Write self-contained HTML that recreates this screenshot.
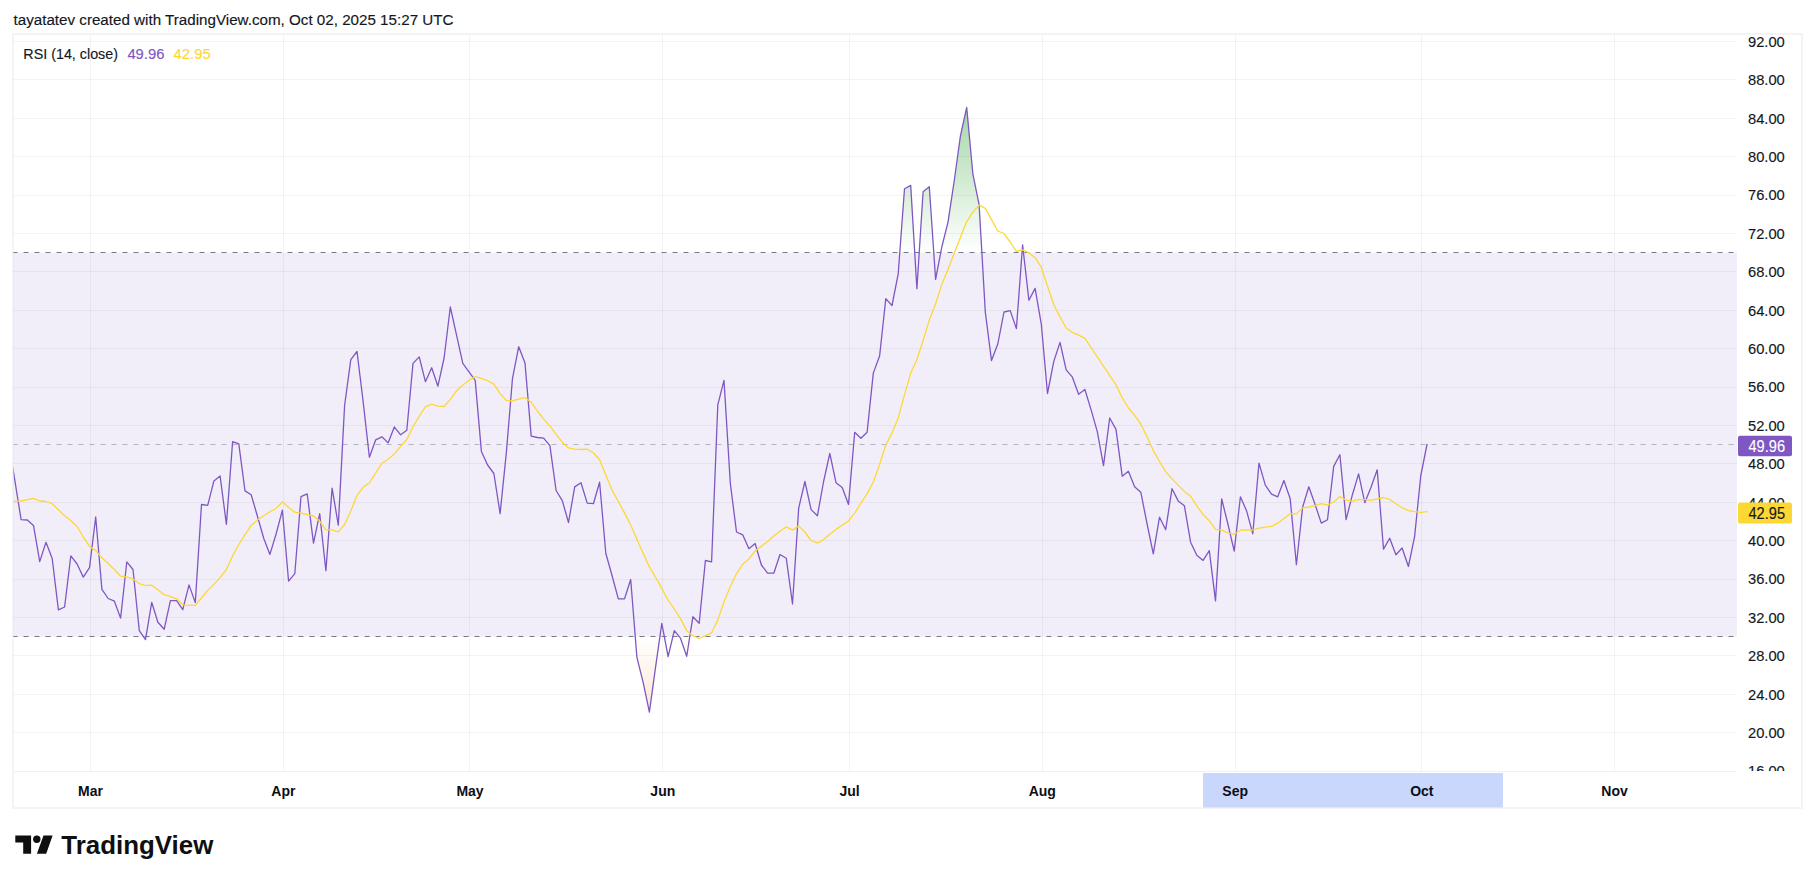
<!DOCTYPE html><html><head><meta charset="utf-8"><title>RSI chart</title>
<style>html,body{margin:0;padding:0;background:#fff}body{width:1815px;height:883px;overflow:hidden}svg{display:block}text{font-family:"Liberation Sans",sans-serif;font-size:15.3px;fill:#131722;stroke:#131722;stroke-width:0.15px;paint-order:stroke}.b{font-weight:bold;font-size:14px;fill:#0c0e15;stroke:none}</style></head><body>
<svg width="1815" height="883" viewBox="0 0 1815 883">
<defs>
<linearGradient id="gg" gradientUnits="userSpaceOnUse" x1="0" y1="-35.3" x2="0" y2="252.7"><stop offset="0" stop-color="#4caf50" stop-opacity="1"/><stop offset="1" stop-color="#4caf50" stop-opacity="0"/></linearGradient>
<linearGradient id="rg" gradientUnits="userSpaceOnUse" x1="0" y1="636.7" x2="0" y2="924.7"><stop offset="0" stop-color="#f0aa5a" stop-opacity="0"/><stop offset="1" stop-color="#f0aa5a" stop-opacity="1"/></linearGradient>
<clipPath id="cp"><rect x="13.5" y="35.0" width="1723.5" height="736.0"/></clipPath>
<clipPath id="cu"><rect x="13.5" y="35.0" width="1723.5" height="217.7"/></clipPath>
<clipPath id="cl"><rect x="13.5" y="636.7" width="1723.5" height="134.3"/></clipPath>
<clipPath id="ca"><rect x="1737.0" y="35.0" width="65.0" height="736.0"/></clipPath>
</defs>
<rect width="1815" height="883" fill="#fff"/>
<text x="13.5" y="24.8" textLength="440" lengthAdjust="spacingAndGlyphs">tayatatev created with TradingView.com, Oct 02, 2025 15:27 UTC</text>
<rect x="13" y="34" width="1789" height="774" fill="none" stroke="#f4f4f4" stroke-width="2"/>
<path d="M13.5 732.5H1737.0M13.5 694.5H1737.0M13.5 655.5H1737.0M13.5 617.5H1737.0M13.5 579.5H1737.0M13.5 540.5H1737.0M13.5 502.5H1737.0M13.5 463.5H1737.0M13.5 425.5H1737.0M13.5 387.5H1737.0M13.5 348.5H1737.0M13.5 310.5H1737.0M13.5 271.5H1737.0M13.5 233.5H1737.0M13.5 195.5H1737.0M13.5 156.5H1737.0M13.5 118.5H1737.0M13.5 79.5H1737.0M13.5 41.5H1737.0M90.5 35.0V771.0M283.5 35.0V771.0M469.5 35.0V771.0M662.5 35.0V771.0M849.5 35.0V771.0M1042.5 35.0V771.0M1235.5 35.0V771.0M1421.5 35.0V771.0M1614.5 35.0V771.0" stroke="#2a2e39" stroke-opacity="0.058" stroke-width="1" fill="none"/>
<path d="M13.5 771.5H1737.0" stroke="#f0f0f1" stroke-width="1"/>
<rect x="13.5" y="252.7" width="1723.5" height="384.0" fill="#7e57c2" fill-opacity="0.1"/>
<g clip-path="url(#cu)"><path d="M12.8 467.5 L21.1 519.7 L27.3 520.0 L33.5 525.4 L39.7 561.6 L46.0 542.3 L52.2 558.6 L58.4 609.9 L64.6 607.0 L70.8 555.9 L77.1 564.0 L83.3 577.1 L89.5 567.6 L95.7 517.0 L101.9 589.3 L108.2 598.5 L114.4 601.2 L120.6 618.1 L126.8 561.8 L133.0 569.5 L139.3 630.6 L145.5 639.6 L151.7 602.3 L157.9 622.2 L164.2 629.2 L170.4 600.7 L176.6 600.7 L182.8 609.7 L189.0 584.9 L195.3 602.6 L201.5 504.5 L207.7 505.3 L213.9 480.9 L220.1 476.0 L226.4 524.3 L232.6 441.7 L238.8 443.9 L245.0 490.9 L251.2 494.7 L257.5 516.5 L263.7 538.2 L269.9 554.4 L276.1 534.0 L282.4 510.2 L288.6 581.2 L294.8 573.7 L301.0 496.6 L307.2 493.9 L313.5 543.1 L319.7 513.6 L325.9 570.7 L332.1 488.1 L338.3 525.1 L344.6 405.5 L350.8 359.7 L357.0 351.5 L363.2 402.1 L369.4 457.2 L375.7 439.8 L381.9 436.8 L388.1 442.9 L394.3 426.9 L400.6 434.8 L406.8 430.3 L413.0 363.4 L419.2 356.9 L425.4 381.7 L431.7 367.8 L437.9 386.2 L444.1 358.0 L450.3 307.0 L456.5 334.9 L462.8 363.4 L469.0 371.9 L475.2 380.4 L481.4 451.4 L487.6 465.0 L493.9 473.5 L500.1 513.6 L506.3 453.1 L512.5 378.3 L518.7 346.7 L525.0 363.1 L531.2 436.1 L537.4 437.5 L543.6 438.1 L549.9 445.6 L556.1 490.5 L562.3 500.7 L568.5 522.5 L574.7 486.9 L581.0 482.8 L587.2 503.1 L593.4 503.7 L599.6 482.2 L605.8 553.2 L612.1 575.7 L618.3 598.9 L624.5 598.9 L630.7 579.5 L636.9 657.3 L643.2 682.6 L649.4 712.1 L655.6 666.8 L661.8 623.3 L668.1 656.6 L674.3 630.6 L680.5 638.2 L686.7 656.3 L692.9 616.7 L699.2 623.3 L705.4 560.5 L711.6 561.8 L717.8 404.8 L724.0 380.3 L730.3 483.2 L736.5 532.0 L742.7 534.8 L748.9 548.7 L755.1 543.5 L761.4 565.0 L767.6 573.2 L773.8 573.2 L780.0 554.5 L786.3 558.3 L792.5 604.0 L798.7 508.1 L804.9 481.5 L811.1 509.6 L817.4 515.8 L823.6 481.5 L829.8 453.3 L836.0 482.7 L842.2 487.4 L848.5 504.4 L854.7 432.3 L860.9 438.3 L867.1 432.3 L873.3 373.1 L879.6 356.0 L885.8 298.6 L892.0 305.5 L898.2 273.9 L904.5 188.7 L910.7 185.4 L916.9 288.8 L923.1 191.7 L929.3 186.7 L935.6 279.4 L941.8 247.0 L948.0 222.1 L954.2 181.0 L960.4 136.1 L966.7 107.5 L972.9 174.2 L979.1 204.6 L985.3 312.0 L991.5 360.6 L997.8 344.0 L1004.0 312.0 L1010.2 310.6 L1016.4 328.6 L1022.6 244.9 L1028.9 300.3 L1035.1 288.4 L1041.3 324.2 L1047.5 393.5 L1053.8 361.4 L1060.0 342.4 L1066.2 369.9 L1072.4 377.2 L1078.6 394.3 L1084.9 389.5 L1091.1 409.9 L1097.3 431.6 L1103.5 465.6 L1109.7 418.0 L1116.0 429.4 L1122.2 476.2 L1128.4 471.3 L1134.6 486.8 L1140.8 492.2 L1147.1 524.0 L1153.3 553.9 L1159.5 517.2 L1165.7 529.7 L1172.0 488.7 L1178.2 500.9 L1184.4 505.8 L1190.6 542.2 L1196.8 555.2 L1203.1 560.4 L1209.3 550.6 L1215.5 600.9 L1221.7 499.0 L1227.9 524.0 L1234.2 551.1 L1240.4 496.8 L1246.6 510.9 L1252.8 533.8 L1259.0 463.1 L1265.3 485.1 L1271.5 494.1 L1277.7 496.8 L1283.9 480.5 L1290.2 498.7 L1296.4 564.7 L1302.6 507.2 L1308.8 486.8 L1315.0 504.3 L1321.3 523.1 L1327.5 519.7 L1333.7 466.4 L1339.9 454.7 L1346.1 519.7 L1352.4 494.7 L1358.6 473.9 L1364.8 502.7 L1371.0 487.3 L1377.2 469.8 L1383.5 549.1 L1389.7 538.2 L1395.9 554.8 L1402.1 548.0 L1408.4 566.5 L1414.6 536.6 L1420.8 475.5 L1427.0 444.5 L1427.0 444.7 L12.8 444.7 Z" fill="url(#gg)"/></g>
<g clip-path="url(#cl)"><path d="M12.8 467.5 L21.1 519.7 L27.3 520.0 L33.5 525.4 L39.7 561.6 L46.0 542.3 L52.2 558.6 L58.4 609.9 L64.6 607.0 L70.8 555.9 L77.1 564.0 L83.3 577.1 L89.5 567.6 L95.7 517.0 L101.9 589.3 L108.2 598.5 L114.4 601.2 L120.6 618.1 L126.8 561.8 L133.0 569.5 L139.3 630.6 L145.5 639.6 L151.7 602.3 L157.9 622.2 L164.2 629.2 L170.4 600.7 L176.6 600.7 L182.8 609.7 L189.0 584.9 L195.3 602.6 L201.5 504.5 L207.7 505.3 L213.9 480.9 L220.1 476.0 L226.4 524.3 L232.6 441.7 L238.8 443.9 L245.0 490.9 L251.2 494.7 L257.5 516.5 L263.7 538.2 L269.9 554.4 L276.1 534.0 L282.4 510.2 L288.6 581.2 L294.8 573.7 L301.0 496.6 L307.2 493.9 L313.5 543.1 L319.7 513.6 L325.9 570.7 L332.1 488.1 L338.3 525.1 L344.6 405.5 L350.8 359.7 L357.0 351.5 L363.2 402.1 L369.4 457.2 L375.7 439.8 L381.9 436.8 L388.1 442.9 L394.3 426.9 L400.6 434.8 L406.8 430.3 L413.0 363.4 L419.2 356.9 L425.4 381.7 L431.7 367.8 L437.9 386.2 L444.1 358.0 L450.3 307.0 L456.5 334.9 L462.8 363.4 L469.0 371.9 L475.2 380.4 L481.4 451.4 L487.6 465.0 L493.9 473.5 L500.1 513.6 L506.3 453.1 L512.5 378.3 L518.7 346.7 L525.0 363.1 L531.2 436.1 L537.4 437.5 L543.6 438.1 L549.9 445.6 L556.1 490.5 L562.3 500.7 L568.5 522.5 L574.7 486.9 L581.0 482.8 L587.2 503.1 L593.4 503.7 L599.6 482.2 L605.8 553.2 L612.1 575.7 L618.3 598.9 L624.5 598.9 L630.7 579.5 L636.9 657.3 L643.2 682.6 L649.4 712.1 L655.6 666.8 L661.8 623.3 L668.1 656.6 L674.3 630.6 L680.5 638.2 L686.7 656.3 L692.9 616.7 L699.2 623.3 L705.4 560.5 L711.6 561.8 L717.8 404.8 L724.0 380.3 L730.3 483.2 L736.5 532.0 L742.7 534.8 L748.9 548.7 L755.1 543.5 L761.4 565.0 L767.6 573.2 L773.8 573.2 L780.0 554.5 L786.3 558.3 L792.5 604.0 L798.7 508.1 L804.9 481.5 L811.1 509.6 L817.4 515.8 L823.6 481.5 L829.8 453.3 L836.0 482.7 L842.2 487.4 L848.5 504.4 L854.7 432.3 L860.9 438.3 L867.1 432.3 L873.3 373.1 L879.6 356.0 L885.8 298.6 L892.0 305.5 L898.2 273.9 L904.5 188.7 L910.7 185.4 L916.9 288.8 L923.1 191.7 L929.3 186.7 L935.6 279.4 L941.8 247.0 L948.0 222.1 L954.2 181.0 L960.4 136.1 L966.7 107.5 L972.9 174.2 L979.1 204.6 L985.3 312.0 L991.5 360.6 L997.8 344.0 L1004.0 312.0 L1010.2 310.6 L1016.4 328.6 L1022.6 244.9 L1028.9 300.3 L1035.1 288.4 L1041.3 324.2 L1047.5 393.5 L1053.8 361.4 L1060.0 342.4 L1066.2 369.9 L1072.4 377.2 L1078.6 394.3 L1084.9 389.5 L1091.1 409.9 L1097.3 431.6 L1103.5 465.6 L1109.7 418.0 L1116.0 429.4 L1122.2 476.2 L1128.4 471.3 L1134.6 486.8 L1140.8 492.2 L1147.1 524.0 L1153.3 553.9 L1159.5 517.2 L1165.7 529.7 L1172.0 488.7 L1178.2 500.9 L1184.4 505.8 L1190.6 542.2 L1196.8 555.2 L1203.1 560.4 L1209.3 550.6 L1215.5 600.9 L1221.7 499.0 L1227.9 524.0 L1234.2 551.1 L1240.4 496.8 L1246.6 510.9 L1252.8 533.8 L1259.0 463.1 L1265.3 485.1 L1271.5 494.1 L1277.7 496.8 L1283.9 480.5 L1290.2 498.7 L1296.4 564.7 L1302.6 507.2 L1308.8 486.8 L1315.0 504.3 L1321.3 523.1 L1327.5 519.7 L1333.7 466.4 L1339.9 454.7 L1346.1 519.7 L1352.4 494.7 L1358.6 473.9 L1364.8 502.7 L1371.0 487.3 L1377.2 469.8 L1383.5 549.1 L1389.7 538.2 L1395.9 554.8 L1402.1 548.0 L1408.4 566.5 L1414.6 536.6 L1420.8 475.5 L1427.0 444.5 L1427.0 444.7 L12.8 444.7 Z" fill="url(#rg)"/></g>
<path d="M13.5 252.5H1737.0" stroke="#787b86" stroke-width="1" stroke-dasharray="5 6" stroke-dashoffset="1" fill="none"/>
<path d="M13.5 444.5H1737.0" stroke="#787b86" stroke-opacity="0.5" stroke-width="1" stroke-dasharray="5 6" stroke-dashoffset="1" fill="none"/>
<path d="M13.5 636.5H1737.0" stroke="#787b86" stroke-width="1" stroke-dasharray="5 6" stroke-dashoffset="1" fill="none"/>
<g clip-path="url(#cp)" fill="none" stroke-linejoin="round" stroke-linecap="round">
<path d="M12.8 467.5 L21.1 519.7 L27.3 520.0 L33.5 525.4 L39.7 561.6 L46.0 542.3 L52.2 558.6 L58.4 609.9 L64.6 607.0 L70.8 555.9 L77.1 564.0 L83.3 577.1 L89.5 567.6 L95.7 517.0 L101.9 589.3 L108.2 598.5 L114.4 601.2 L120.6 618.1 L126.8 561.8 L133.0 569.5 L139.3 630.6 L145.5 639.6 L151.7 602.3 L157.9 622.2 L164.2 629.2 L170.4 600.7 L176.6 600.7 L182.8 609.7 L189.0 584.9 L195.3 602.6 L201.5 504.5 L207.7 505.3 L213.9 480.9 L220.1 476.0 L226.4 524.3 L232.6 441.7 L238.8 443.9 L245.0 490.9 L251.2 494.7 L257.5 516.5 L263.7 538.2 L269.9 554.4 L276.1 534.0 L282.4 510.2 L288.6 581.2 L294.8 573.7 L301.0 496.6 L307.2 493.9 L313.5 543.1 L319.7 513.6 L325.9 570.7 L332.1 488.1 L338.3 525.1 L344.6 405.5 L350.8 359.7 L357.0 351.5 L363.2 402.1 L369.4 457.2 L375.7 439.8 L381.9 436.8 L388.1 442.9 L394.3 426.9 L400.6 434.8 L406.8 430.3 L413.0 363.4 L419.2 356.9 L425.4 381.7 L431.7 367.8 L437.9 386.2 L444.1 358.0 L450.3 307.0 L456.5 334.9 L462.8 363.4 L469.0 371.9 L475.2 380.4 L481.4 451.4 L487.6 465.0 L493.9 473.5 L500.1 513.6 L506.3 453.1 L512.5 378.3 L518.7 346.7 L525.0 363.1 L531.2 436.1 L537.4 437.5 L543.6 438.1 L549.9 445.6 L556.1 490.5 L562.3 500.7 L568.5 522.5 L574.7 486.9 L581.0 482.8 L587.2 503.1 L593.4 503.7 L599.6 482.2 L605.8 553.2 L612.1 575.7 L618.3 598.9 L624.5 598.9 L630.7 579.5 L636.9 657.3 L643.2 682.6 L649.4 712.1 L655.6 666.8 L661.8 623.3 L668.1 656.6 L674.3 630.6 L680.5 638.2 L686.7 656.3 L692.9 616.7 L699.2 623.3 L705.4 560.5 L711.6 561.8 L717.8 404.8 L724.0 380.3 L730.3 483.2 L736.5 532.0 L742.7 534.8 L748.9 548.7 L755.1 543.5 L761.4 565.0 L767.6 573.2 L773.8 573.2 L780.0 554.5 L786.3 558.3 L792.5 604.0 L798.7 508.1 L804.9 481.5 L811.1 509.6 L817.4 515.8 L823.6 481.5 L829.8 453.3 L836.0 482.7 L842.2 487.4 L848.5 504.4 L854.7 432.3 L860.9 438.3 L867.1 432.3 L873.3 373.1 L879.6 356.0 L885.8 298.6 L892.0 305.5 L898.2 273.9 L904.5 188.7 L910.7 185.4 L916.9 288.8 L923.1 191.7 L929.3 186.7 L935.6 279.4 L941.8 247.0 L948.0 222.1 L954.2 181.0 L960.4 136.1 L966.7 107.5 L972.9 174.2 L979.1 204.6 L985.3 312.0 L991.5 360.6 L997.8 344.0 L1004.0 312.0 L1010.2 310.6 L1016.4 328.6 L1022.6 244.9 L1028.9 300.3 L1035.1 288.4 L1041.3 324.2 L1047.5 393.5 L1053.8 361.4 L1060.0 342.4 L1066.2 369.9 L1072.4 377.2 L1078.6 394.3 L1084.9 389.5 L1091.1 409.9 L1097.3 431.6 L1103.5 465.6 L1109.7 418.0 L1116.0 429.4 L1122.2 476.2 L1128.4 471.3 L1134.6 486.8 L1140.8 492.2 L1147.1 524.0 L1153.3 553.9 L1159.5 517.2 L1165.7 529.7 L1172.0 488.7 L1178.2 500.9 L1184.4 505.8 L1190.6 542.2 L1196.8 555.2 L1203.1 560.4 L1209.3 550.6 L1215.5 600.9 L1221.7 499.0 L1227.9 524.0 L1234.2 551.1 L1240.4 496.8 L1246.6 510.9 L1252.8 533.8 L1259.0 463.1 L1265.3 485.1 L1271.5 494.1 L1277.7 496.8 L1283.9 480.5 L1290.2 498.7 L1296.4 564.7 L1302.6 507.2 L1308.8 486.8 L1315.0 504.3 L1321.3 523.1 L1327.5 519.7 L1333.7 466.4 L1339.9 454.7 L1346.1 519.7 L1352.4 494.7 L1358.6 473.9 L1364.8 502.7 L1371.0 487.3 L1377.2 469.8 L1383.5 549.1 L1389.7 538.2 L1395.9 554.8 L1402.1 548.0 L1408.4 566.5 L1414.6 536.6 L1420.8 475.5 L1427.0 444.5" stroke="#7e57c2" stroke-width="1.3"/>
<path d="M12.8 501.6 L14.8 501.5 L21.1 501.0 L33.5 498.3 L39.7 501.0 L46.0 501.5 L52.2 503.7 L58.4 509.7 L64.6 515.7 L70.8 520.5 L77.1 526.5 L83.3 536.8 L89.5 546.4 L95.7 550.4 L101.9 557.8 L108.2 563.5 L114.4 569.5 L120.6 576.2 L126.8 576.8 L133.0 579.0 L139.3 583.6 L145.5 585.5 L151.7 585.2 L157.9 589.8 L164.2 594.7 L170.4 596.6 L176.6 598.8 L182.8 604.8 L189.0 605.1 L195.3 605.3 L201.5 598.0 L207.7 590.4 L213.9 584.4 L220.1 577.6 L226.4 569.5 L232.6 555.9 L238.8 544.5 L245.0 534.7 L251.2 525.4 L257.5 520.0 L263.7 515.7 L269.9 511.8 L276.1 508.5 L282.4 501.7 L288.6 507.5 L294.8 512.2 L301.0 513.2 L307.2 514.6 L313.5 516.0 L319.7 521.1 L325.9 529.9 L332.1 529.9 L338.3 531.9 L344.6 524.5 L350.8 510.9 L357.0 495.6 L363.2 487.1 L369.4 483.0 L375.7 472.8 L381.9 463.3 L388.1 459.2 L394.3 454.1 L400.6 446.3 L406.8 439.5 L413.0 426.6 L419.2 416.4 L425.4 406.9 L431.7 404.2 L437.9 406.2 L444.1 406.5 L450.3 399.4 L456.5 390.9 L462.8 385.1 L469.0 380.4 L475.2 376.6 L481.4 378.3 L487.6 380.7 L493.9 384.1 L500.1 393.6 L506.3 400.4 L512.5 400.8 L518.7 399.1 L525.0 397.7 L531.2 402.1 L537.4 411.0 L543.6 419.1 L549.9 425.9 L556.1 434.4 L562.3 442.2 L568.5 447.9 L574.7 449.2 L581.0 449.5 L587.2 449.2 L593.4 452.7 L599.6 459.7 L605.8 474.9 L612.1 490.1 L618.3 501.2 L624.5 512.9 L630.7 525.0 L636.9 539.3 L643.2 553.2 L649.4 566.9 L655.6 577.3 L661.8 588.4 L668.1 600.2 L674.3 609.0 L680.5 618.6 L686.7 630.6 L692.9 635.7 L699.2 638.5 L705.4 635.7 L711.6 632.8 L717.8 620.1 L724.0 601.8 L730.3 586.5 L736.5 573.8 L742.7 564.3 L748.9 558.9 L755.1 551.0 L761.4 546.2 L767.6 541.5 L773.8 536.1 L780.0 531.3 L786.3 526.9 L792.5 530.1 L798.7 525.9 L804.9 532.0 L811.1 540.5 L817.4 543.1 L823.6 539.6 L829.8 534.2 L836.0 529.4 L842.2 525.3 L848.5 520.9 L854.7 513.1 L860.9 503.1 L867.1 493.9 L873.3 482.0 L879.6 464.5 L885.8 445.1 L892.0 432.9 L898.2 417.9 L904.5 394.8 L910.7 373.1 L916.9 359.5 L923.1 340.5 L929.3 320.1 L935.6 303.8 L941.8 284.4 L948.0 269.4 L954.2 253.2 L960.4 237.5 L966.7 221.6 L972.9 212.1 L979.1 205.1 L985.3 208.4 L991.5 219.6 L997.8 231.0 L1004.0 233.5 L1010.2 242.0 L1016.4 251.4 L1022.6 249.8 L1028.9 252.8 L1035.1 257.7 L1041.3 267.2 L1047.5 286.2 L1053.8 304.7 L1060.0 316.9 L1066.2 328.0 L1072.4 332.4 L1078.6 335.1 L1084.9 338.3 L1116.0 384.9 L1122.2 397.7 L1128.4 408.0 L1134.6 415.3 L1140.8 424.0 L1147.1 437.0 L1153.3 450.6 L1159.5 461.5 L1165.7 471.6 L1172.0 478.9 L1178.2 485.1 L1184.4 491.4 L1190.6 496.3 L1196.8 505.8 L1203.1 514.5 L1209.3 520.7 L1215.5 529.4 L1221.7 530.2 L1227.9 532.9 L1234.2 534.3 L1240.4 530.2 L1246.6 530.0 L1252.8 530.0 L1259.0 528.1 L1265.3 527.2 L1271.5 526.4 L1277.7 523.2 L1283.9 518.5 L1290.2 513.7 L1296.4 513.9 L1302.6 507.9 L1308.8 507.0 L1315.0 505.6 L1321.3 503.6 L1327.5 505.2 L1333.7 502.0 L1339.9 496.6 L1346.1 500.2 L1352.4 501.1 L1358.6 499.7 L1364.8 499.7 L1371.0 500.4 L1377.2 498.8 L1383.5 497.5 L1389.7 499.3 L1395.9 503.8 L1402.1 507.7 L1408.4 510.6 L1414.6 511.7 L1420.8 512.4 L1427.0 511.7" stroke="#fdd835" stroke-width="1.3"/>
</g>
<text x="23.3" y="59" textLength="94.7" lengthAdjust="spacingAndGlyphs">RSI (14, close)</text>
<text x="127.4" y="59" textLength="37" lengthAdjust="spacingAndGlyphs" style="fill:#7e57c2;stroke:#7e57c2">49.96</text>
<text x="173.5" y="59" textLength="37.3" lengthAdjust="spacingAndGlyphs" style="fill:#fdd835;stroke:#fdd835">42.95</text>
<g clip-path="url(#ca)" style="font-size:16.3px">
<text x="1748" y="776.4" textLength="36.8" lengthAdjust="spacingAndGlyphs">16.00</text>
<text x="1748" y="738.0" textLength="36.8" lengthAdjust="spacingAndGlyphs">20.00</text>
<text x="1748" y="699.6" textLength="36.8" lengthAdjust="spacingAndGlyphs">24.00</text>
<text x="1748" y="661.2" textLength="36.8" lengthAdjust="spacingAndGlyphs">28.00</text>
<text x="1748" y="622.8" textLength="36.8" lengthAdjust="spacingAndGlyphs">32.00</text>
<text x="1748" y="584.4" textLength="36.8" lengthAdjust="spacingAndGlyphs">36.00</text>
<text x="1748" y="546.0" textLength="36.8" lengthAdjust="spacingAndGlyphs">40.00</text>
<text x="1748" y="507.6" textLength="36.8" lengthAdjust="spacingAndGlyphs">44.00</text>
<text x="1748" y="469.2" textLength="36.8" lengthAdjust="spacingAndGlyphs">48.00</text>
<text x="1748" y="430.8" textLength="36.8" lengthAdjust="spacingAndGlyphs">52.00</text>
<text x="1748" y="392.4" textLength="36.8" lengthAdjust="spacingAndGlyphs">56.00</text>
<text x="1748" y="354.0" textLength="36.8" lengthAdjust="spacingAndGlyphs">60.00</text>
<text x="1748" y="315.6" textLength="36.8" lengthAdjust="spacingAndGlyphs">64.00</text>
<text x="1748" y="277.2" textLength="36.8" lengthAdjust="spacingAndGlyphs">68.00</text>
<text x="1748" y="238.8" textLength="36.8" lengthAdjust="spacingAndGlyphs">72.00</text>
<text x="1748" y="200.4" textLength="36.8" lengthAdjust="spacingAndGlyphs">76.00</text>
<text x="1748" y="162.0" textLength="36.8" lengthAdjust="spacingAndGlyphs">80.00</text>
<text x="1748" y="123.6" textLength="36.8" lengthAdjust="spacingAndGlyphs">84.00</text>
<text x="1748" y="85.2" textLength="36.8" lengthAdjust="spacingAndGlyphs">88.00</text>
<text x="1748" y="46.8" textLength="36.8" lengthAdjust="spacingAndGlyphs">92.00</text>
</g>
<rect x="1738" y="435.8" width="54" height="20.5" rx="2" fill="#7e57c2"/>
<text x="1748.5" y="452.1" textLength="36.5" lengthAdjust="spacingAndGlyphs" style="fill:#fff;stroke:#fff;font-size:16.3px">49.96</text>
<rect x="1738" y="502.4" width="54" height="21" rx="2" fill="#fdd835"/>
<text x="1748.5" y="518.8" textLength="36.5" lengthAdjust="spacingAndGlyphs" style="font-size:16.3px">42.95</text>
<rect x="1203" y="773" width="300" height="34.5" fill="#c9d7fc"/>
<text class="b" x="90.5" y="796" text-anchor="middle">Mar</text>
<text class="b" x="283.4" y="796" text-anchor="middle">Apr</text>
<text class="b" x="470.0" y="796" text-anchor="middle">May</text>
<text class="b" x="662.8" y="796" text-anchor="middle">Jun</text>
<text class="b" x="849.5" y="796" text-anchor="middle">Jul</text>
<text class="b" x="1042.3" y="796" text-anchor="middle">Aug</text>
<text class="b" x="1235.2" y="796" text-anchor="middle">Sep</text>
<text class="b" x="1421.8" y="796" text-anchor="middle">Oct</text>
<text class="b" x="1614.6" y="796" text-anchor="middle">Nov</text>
<g fill="#0f0f0f"><path d="M15.3 835.5H31.1V853.7H23.2V842.4H15.3Z"/><circle cx="36.8" cy="839.3" r="3.7"/><path d="M43.5 835.5H52.6L46.2 853.7H36.9Z"/></g>
<text x="61.3" y="853.7" textLength="152" lengthAdjust="spacingAndGlyphs" style="font-size:26.4px;font-weight:bold;fill:#0f0f0f;stroke:none">TradingView</text>
</svg></body></html>
